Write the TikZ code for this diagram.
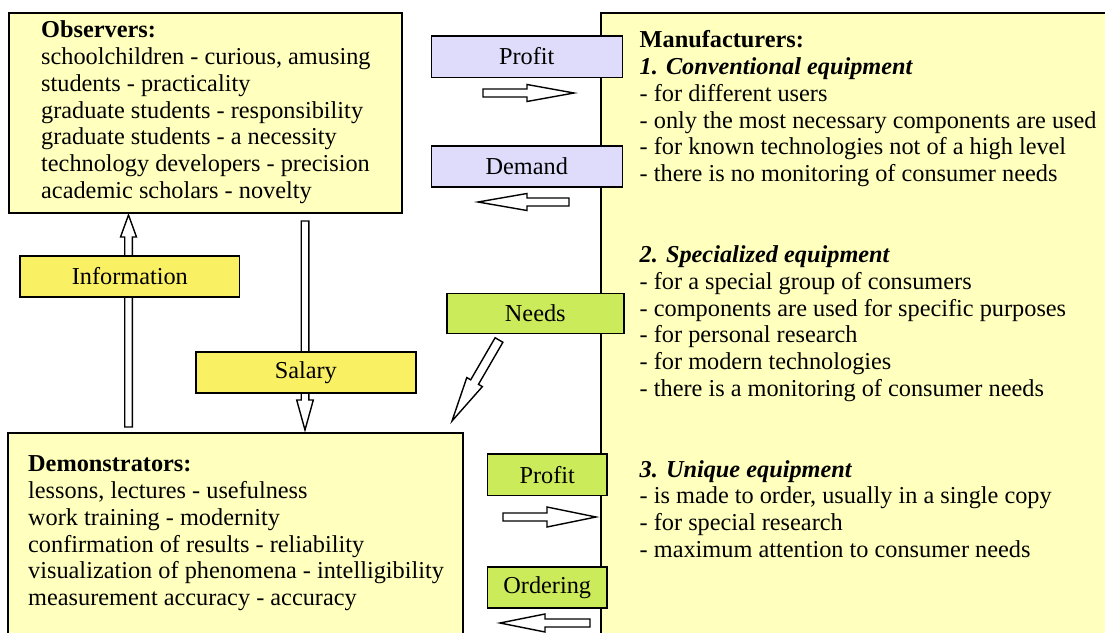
\documentclass[tikz,border=0pt]{standalone}
\usepackage{fontspec}
\setmainfont{Liberation Serif}
\usetikzlibrary{calc}
\definecolor{paleyel}{HTML}{FFFFBE}
\definecolor{lav}{HTML}{DEDCFA}
\definecolor{lgreen}{HTML}{CCEB5A}
\definecolor{yel}{HTML}{FAF064}
\tikzset{
  bigbox/.style={draw=black, line width=1.6pt, fill=paleyel},
  tag/.style={draw=black, line width=1.6pt, anchor=north west, inner sep=0pt,
    font=\fontsize{24.3}{28}\selectfont},
  lavtag/.style={tag, fill=lav},
  greentag/.style={tag, fill=lgreen},
  yeltag/.style={tag, fill=yel},
  blk/.style={draw=black, line width=1.4pt, fill=white, line join=miter},
  txt/.style={anchor=base west, inner sep=0pt, font=\fontsize{24.3}{26.85}\selectfont}
}
\newcommand\blockarrow[5]{%
  \path ($(#2)!#5!(#1)$) coordinate (hb);
  \draw[blk] ($(#1)!#3!90:(#2)$) -- ($(hb)!#3!90:(#2)$) -- ($(hb)!#4!90:(#2)$) -- (#2)
    -- ($(hb)!#4!-90:(#2)$) -- ($(hb)!#3!-90:(#2)$) -- ($(#1)!#3!-90:(#2)$) -- cycle;}
\begin{document}
\begin{tikzpicture}[x=1pt,y=-1pt]
\useasboundingbox (0,0) rectangle (1105,632);
\clip (0,0) rectangle (1105,632);
% big boxes
\draw[bigbox] (601,12.7) rectangle (1130,660);
\draw[bigbox] (9,12.7) rectangle (402,213);
\draw[bigbox] (8,433) rectangle (463,660);
% texts
\node[txt] (obs) at (41,37.5) {\begin{tabular}[t]{@{}l@{}}
\textbf{Observers:}\\
schoolchildren - curious, amusing\\
students - practicality\\
graduate students - responsibility\\
graduate students - a necessity\\
technology developers - precision\\
academic scholars - novelty
\end{tabular}};
\node[txt] (dem) at (28,471.5) {\begin{tabular}[t]{@{}l@{}}
\textbf{Demonstrators:}\\
lessons, lectures - usefulness\\
work training - modernity\\
confirmation of results - reliability\\
visualization of phenomena - intelligibility\\
measurement accuracy - accuracy
\end{tabular}};
\node[txt] (man) at (639.5,47.5) {\begin{tabular}[t]{@{}l@{}}
\textbf{Manufacturers:}\\
\textbf{\textit{1. Conventional equipment}}\\
- for different users\\
- only the most necessary components are used\\
- for known technologies not of a high level\\
- there is no monitoring of consumer needs\\
\\
\\
\textbf{\textit{2. Specialized equipment}}\\
- for a special group of consumers\\
- components are used for specific purposes\\
- for personal research\\
- for modern technologies\\
- there is a monitoring of consumer needs\\
\\
\\
\textbf{\textit{3. Unique equipment}}\\
- is made to order, usually in a single copy\\
- for special research\\
- maximum attention to consumer needs
\end{tabular}};
% arrow end points
\coordinate (p1s) at (483,93);   \coordinate (p1e) at (574,93);
\coordinate (d1s) at (569,202);  \coordinate (d1e) at (478,202);
\coordinate (ins) at (128.5,427); \coordinate (ine) at (128.5,215);
\coordinate (sas) at (305,221);  \coordinate (sae) at (305,430);
\coordinate (nes) at (499,340);  \coordinate (nee) at (452,421);
\coordinate (p2s) at (503,517);  \coordinate (p2e) at (596,517);
\coordinate (ors) at (590,623);  \coordinate (ore) at (500,623);
\blockarrow{p1s}{p1e}{4pt}{8.5pt}{47pt}
\blockarrow{d1s}{d1e}{4pt}{8.5pt}{49pt}
\blockarrow{ins}{ine}{3.8pt}{8pt}{22pt}
\blockarrow{sas}{sae}{3.8pt}{8.3pt}{30pt}
\blockarrow{nes}{nee}{4.5pt}{9pt}{45pt}
\blockarrow{p2s}{p2e}{4pt}{10pt}{49pt}
\blockarrow{ors}{ore}{4pt}{9pt}{45pt}
% labels
\node[lavtag, minimum width=191pt, minimum height=41.5pt] (profitA) at (430.5,35) {Profit};
\node[lavtag, minimum width=191pt, minimum height=41pt] (demand) at (430.5,145) {Demand};
\node[greentag, minimum width=177pt, minimum height=40pt] (needs) at (446,292.7) {Needs};
\node[greentag, minimum width=119.5pt, minimum height=41.5pt] (profitB) at (486.7,453.3) {Profit};
\node[greentag, minimum width=119.5pt, minimum height=41pt] (ordering) at (486.7,566) {Ordering};
\node[yeltag, minimum width=219.5pt, minimum height=41pt] (info) at (19.3,255) {Information};
\node[yeltag, minimum width=220pt, minimum height=41pt] (salary) at (195,351) {Salary};
\end{tikzpicture}
\end{document}
